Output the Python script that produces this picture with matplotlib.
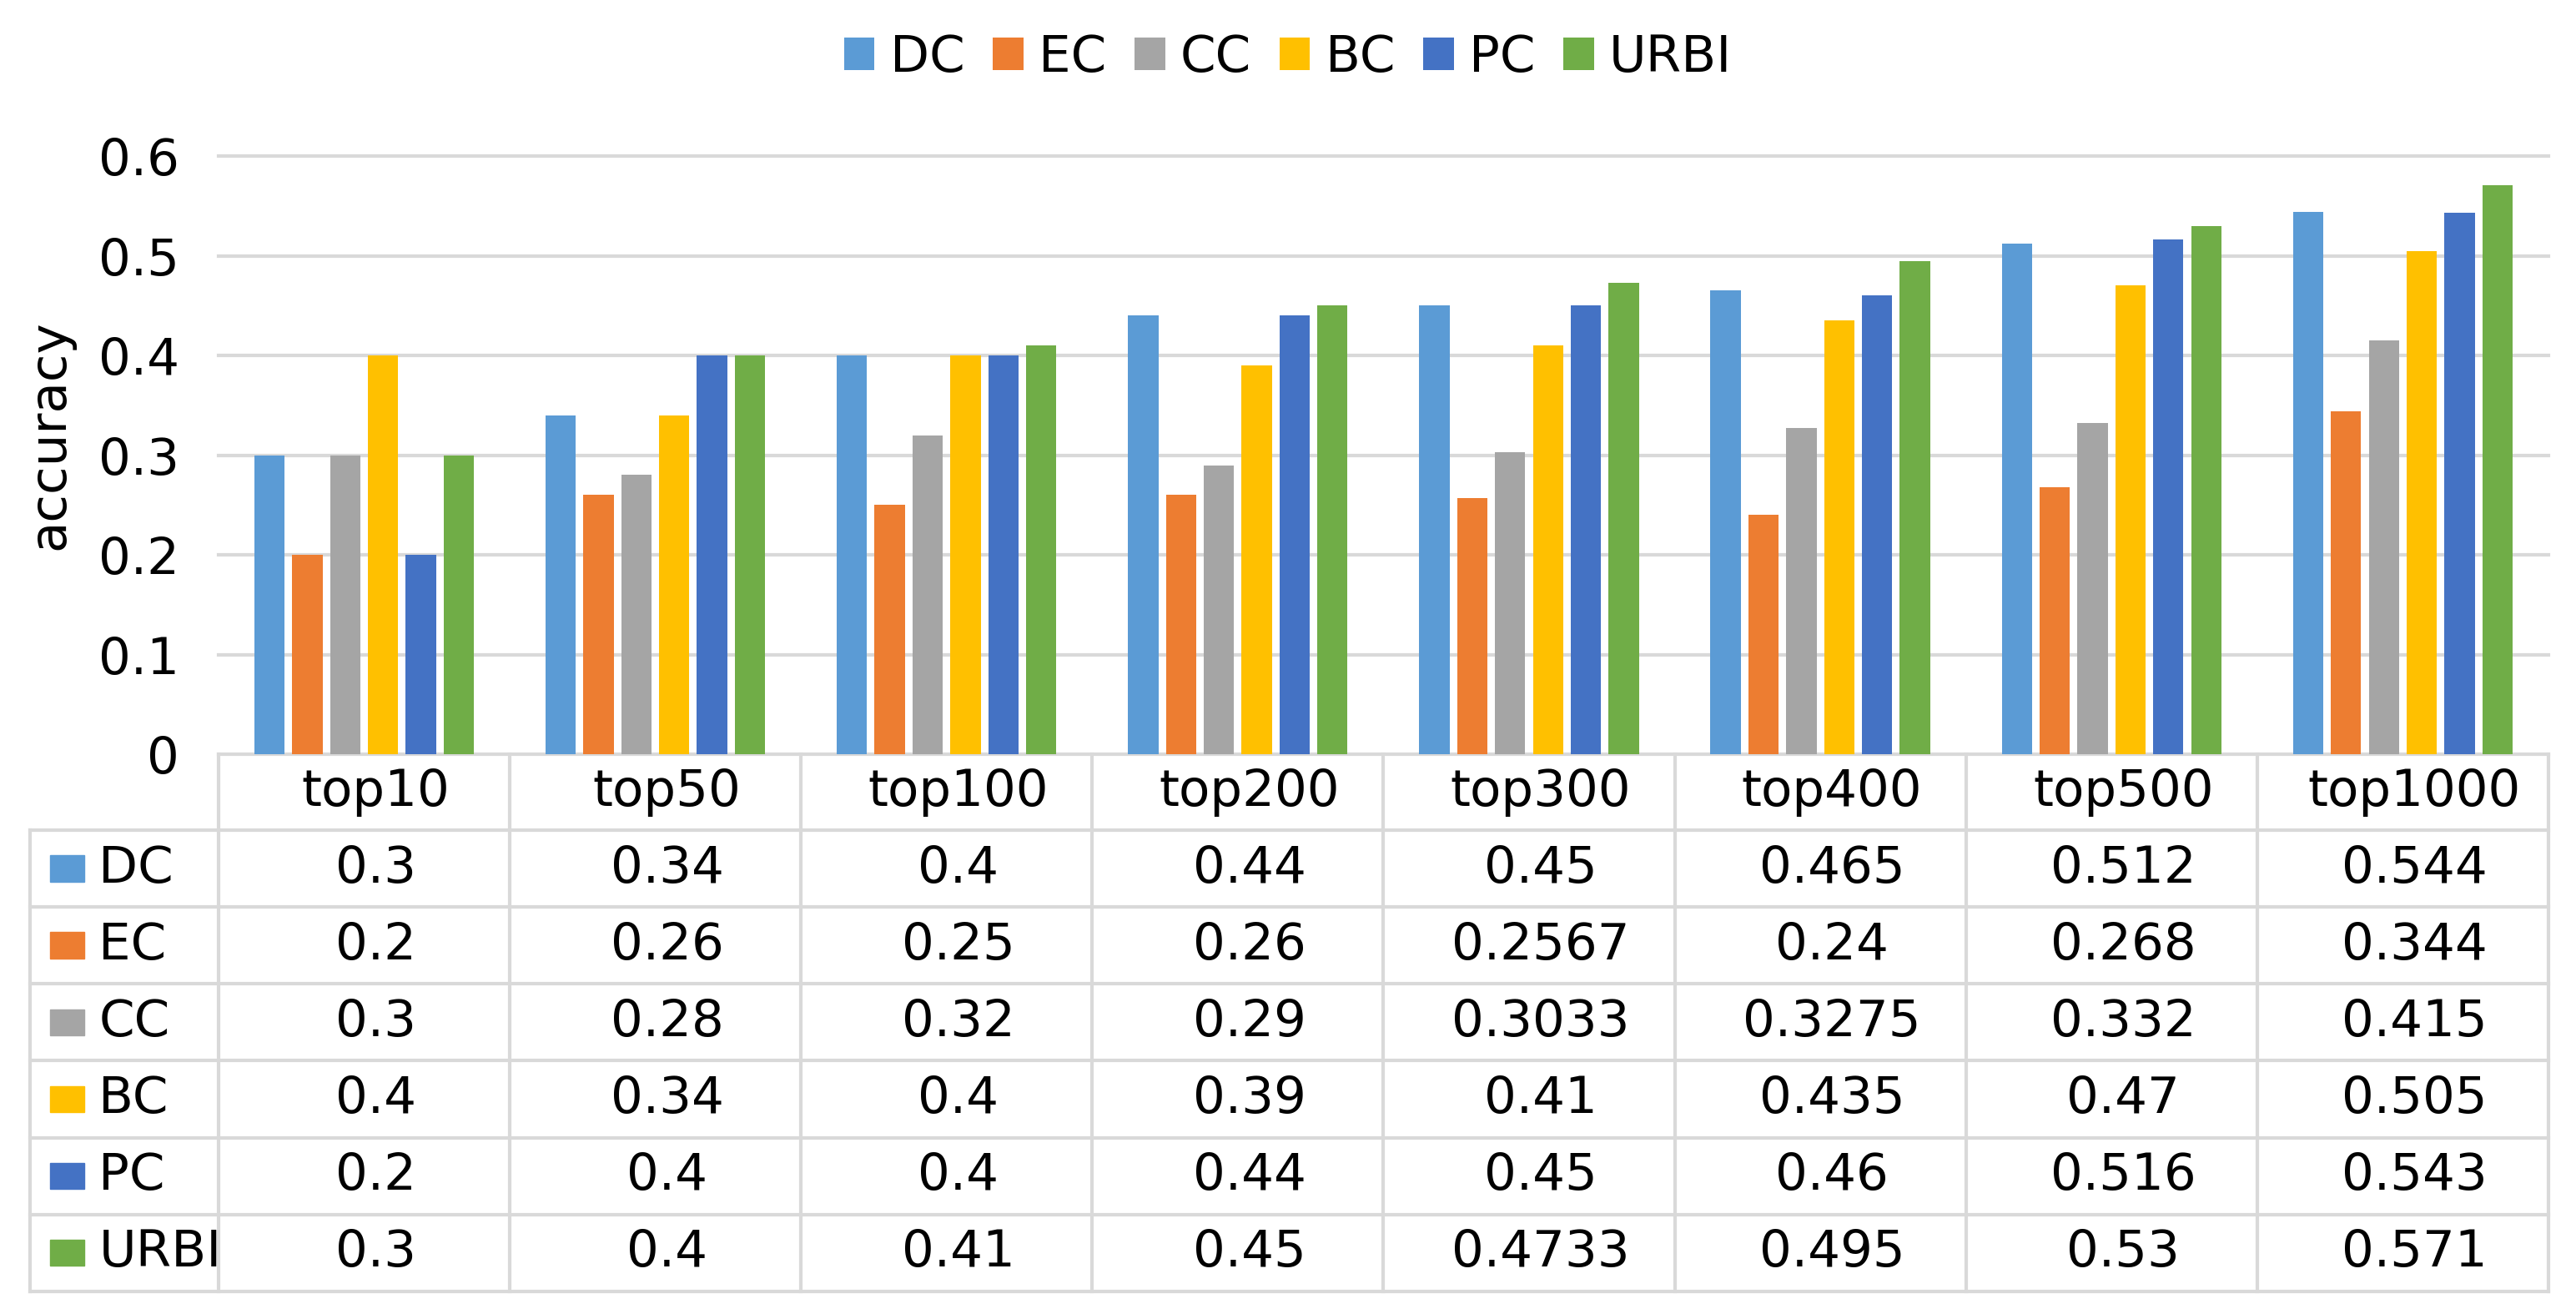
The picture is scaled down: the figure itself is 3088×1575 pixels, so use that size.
import matplotlib
matplotlib.use("Agg")
import matplotlib.pyplot as plt
import matplotlib.transforms as mtransforms
from matplotlib.patches import Rectangle
import numpy as np

plt.rcParams['font.family'] = ['DejaVu Sans']

# data
categories = ["top10", "top50", "top100", "top200", "top300", "top400", "top500", "top1000"]
series_names = ["DC", "EC", "CC", "BC", "PC", "URBI"]
dc = [0.3, 0.34, 0.4, 0.44, 0.45, 0.465, 0.512, 0.544]
ec = [0.2, 0.26, 0.25, 0.26, 0.2567, 0.24, 0.268, 0.344]
cc = [0.3, 0.28, 0.32, 0.29, 0.3033, 0.3275, 0.332, 0.415]
bc = [0.4, 0.34, 0.4, 0.39, 0.41, 0.435, 0.47, 0.505]
pc = [0.2, 0.4, 0.4, 0.44, 0.45, 0.46, 0.516, 0.543]
urbi = [0.3, 0.4, 0.41, 0.45, 0.4733, 0.495, 0.53, 0.571]
series = [dc, ec, cc, bc, pc, urbi]
colors = ["#5B9BD5", "#ED7D31", "#A5A5A5", "#FFC000", "#4472C4", "#70AD47"]
yticks = [0, 0.1, 0.2, 0.3, 0.4, 0.5, 0.6]

FS = 44
GRID = "#D9D9D9"
LW = 3.0

fig = plt.figure(figsize=(30.88, 15.75), dpi=100)
ax = fig.add_axes([0.0848, 0.4260, 0.9045, 0.4552])

x = np.arange(len(categories))
bar_w = 0.104
step = 0.13
handles = []
for i, (name, vals) in enumerate(zip(series_names, series)):
    b = ax.bar(x + (i - 2.5) * step, vals, width=bar_w, color=colors[i], label=name, zorder=3)
    handles.append(b)

ax.set_xlim(-0.5, len(categories) - 0.5)
ax.set_ylim(0, 0.6)
for s in ax.spines.values():
    s.set_visible(False)
ax.set_xticks([])
ax.set_yticks(yticks)
ax.set_yticklabels([f"{v:g}" for v in yticks])
ax.tick_params(axis='y', length=0, pad=34, labelsize=FS)
for v in yticks[1:]:
    ax.axhline(v, color=GRID, lw=LW, zorder=0, clip_on=False)

fig.text(60 / 3088, 1 - 521 / 1575, "accuracy", rotation=90, ha='center', va='center', fontsize=FS)

# data table under the plot
trans = mtransforms.blended_transform_factory(ax.transData, ax.transAxes)
x_left = -0.5 - 0.646
x_right = len(categories) - 0.5
head_h = 0.1269
row_h = 0.1285
y_head = -head_h
y_bottom = y_head - row_h * len(series)

ax.plot([-0.5, x_right], [0, 0], color=GRID, lw=LW, transform=trans, clip_on=False)
for r in range(len(series) + 1):
    yy = y_head - r * row_h
    ax.plot([x_left, x_right], [yy, yy], color=GRID, lw=LW, transform=trans, clip_on=False)
ax.plot([x_left, x_left], [y_head, y_bottom], color=GRID, lw=LW, transform=trans, clip_on=False)
for k in range(len(categories) + 1):
    xx = -0.5 + k
    ax.plot([xx, xx], [0, y_bottom], color=GRID, lw=LW, transform=trans, clip_on=False)

dx = 0.04
for j, cat in enumerate(categories):
    ax.text(j + dx, -head_h / 2, cat, ha='center', va='center', fontsize=FS,
            transform=trans, clip_on=False)
for r, (name, vals) in enumerate(zip(series_names, series)):
    yc = y_head - (r + 0.5) * row_h
    ax.add_patch(Rectangle((x_left + 0.067, yc - 0.022), 0.117, 0.044, color=colors[r],
                           transform=trans, clip_on=False))
    ax.text(x_left + 0.235, yc, name, ha='left', va='center', fontsize=FS,
            transform=trans, clip_on=False)
    for j, v in enumerate(vals):
        ax.text(j + dx, yc, str(v), ha='center', va='center', fontsize=FS,
                transform=trans, clip_on=False)

fig.legend(handles=handles, labels=series_names, loc='center', bbox_to_anchor=(0.5, 0.956),
           ncol=6, frameon=False, fontsize=FS, handlelength=0.6, handleheight=0.6,
           handletextpad=0.3, columnspacing=0.55)

fig.savefig("out.png", dpi=100)
